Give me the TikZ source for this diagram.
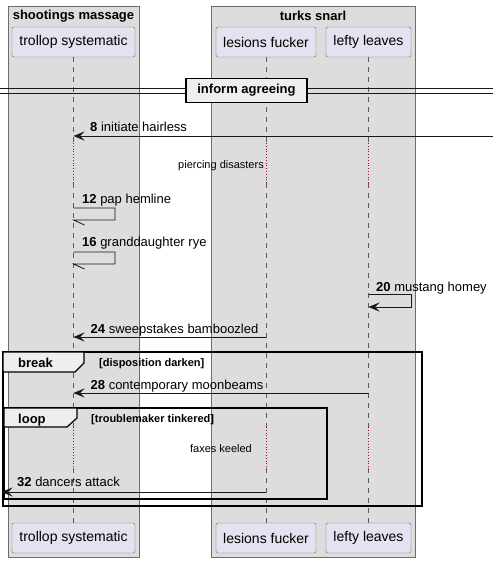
\documentclass[tikz,border=0pt]{standalone}
\usepackage{fontspec}
\setmainfont{Liberation Sans}
\usetikzlibrary{arrows.meta}
\definecolor{partfill}{HTML}{E2E2F0}
\definecolor{boxgray}{HTML}{DDDDDD}
\definecolor{tabfill}{HTML}{EEEEEE}
\definecolor{lifered}{HTML}{A80036}
\definecolor{ink}{HTML}{181818}

\begin{document}
\begin{tikzpicture}
  [x=1pt,y=-1pt,
   part/.style={draw=gray!80!black,fill=partfill,rounded corners=2pt,inner sep=0pt,
     minimum height=30pt,font=\fontsize{14}{16}\selectfont},
   area/.style={draw=gray!85!black,fill=boxgray,line width=0.6pt},
   areatitle/.style={font=\fontsize{13}{15}\selectfont\bfseries,inner sep=0pt},
   life/.style={draw=gray!70!black,dash pattern=on 5pt off 5pt,line width=0.6pt},
   delayline/.style={draw=lifered,dotted,line width=0.8pt},
   msg/.style={draw=ink,line width=0.8pt,-{Stealth[length=11pt,width=9pt,inset=4.5pt]}},
   plain/.style={draw=ink,line width=0.8pt},
   lbl/.style={anchor=base west,inner sep=0pt,font=\fontsize{13}{15}\selectfont},
   delaytext/.style={anchor=base,inner sep=0pt,font=\fontsize{11}{13}\selectfont},
   frame/.style={draw=black,line width=1.6pt},
   tab/.style={draw=black,fill=tabfill,line width=1.2pt},
   tabtext/.style={anchor=base west,inner sep=0pt,font=\fontsize{13}{15}\selectfont\bfseries},
   guard/.style={anchor=base west,inner sep=0pt,font=\fontsize{11}{13}\selectfont\bfseries}]

  \useasboundingbox (0,0) rectangle (499,563);

  % group areas
  \draw[area] (8,6) rectangle (139,557);
  \draw[area] (211,6) rectangle (415,557);
  \node[areatitle] (gshoot) at (73.5,16) {shootings massage};
  \node[areatitle] (gturks) at (313,16) {turks snarl};

  % participants
  \node[part,minimum width=123pt] (ts) at (73.5,42) {trollop systematic};
  \node[part,minimum width=100pt] (lf) at (266,42) {lesions fucker};
  \node[part,minimum width=85pt] (ll) at (368.5,42) {lefty leaves};
  \node[part,minimum width=123pt] (tsb) at (73.5,538) {trollop systematic};
  \node[part,minimum width=100pt] (lfb) at (266,538) {lesions fucker};
  \node[part,minimum width=85pt] (llb) at (368.5,538) {lefty leaves};

  % lifelines with the two delays
  \foreach \n/\x in {ts/73.5,lf/266,ll/368.5}{
    \coordinate (\n d1) at (\x,143);
    \coordinate (\n d2) at (\x,183);
    \coordinate (\n d3) at (\x,427);
    \coordinate (\n d4) at (\x,468);
    \draw[life] (\n.south) -- (\n d1);
    \draw[delayline] (\n d1) -- (\n d2);
    \draw[life] (\n d2) -- (\n d3);
    \draw[delayline] (\n d3) -- (\n d4);
    \draw[life] (\n d4) -- (\n b.north);
  }

  % divider
  \coordinate (dl) at (0,90.5);
  \coordinate (dr) at (493,90.5);
  \draw[ink,line width=0.8pt] ([yshift=-2.5pt]dl) -- ([yshift=-2.5pt]dr);
  \draw[ink,line width=0.8pt] ([yshift=2.5pt]dl) -- ([yshift=2.5pt]dr);
  \node[draw=black,fill=tabfill,line width=1.6pt,minimum width=121pt,minimum height=24pt,
    inner sep=0pt,font=\fontsize{13}{15}\selectfont\bfseries] (inform) at (246.5,90.5) {inform agreeing};

  % messages
  \coordinate (m8s) at (493,136);   \coordinate (m8e) at (73.5,136);
  \draw[msg] (m8s) -- (m8e);
  \node[lbl] (l8) at (90,131) {\textbf{8} initiate hairless};

  \node[delaytext] (dpierce) at (221,168) {piercing disasters};

  \coordinate (m12a) at (73.5,208); \coordinate (m12b) at (115,208);
  \coordinate (m12c) at (115,220);  \coordinate (m12d) at (73.5,220);
  \draw[plain] (m12a) -- (m12b) -- (m12c) -- (m12d) -- ++(11,5);
  \node[lbl] (l12) at (82,203) {\textbf{12} pap hemline};

  \coordinate (m16a) at (73.5,252); \coordinate (m16b) at (115,252);
  \coordinate (m16c) at (115,264);  \coordinate (m16d) at (73.5,264);
  \draw[plain] (m16a) -- (m16b) -- (m16c) -- (m16d) -- ++(11,5);
  \node[lbl] (l16) at (82,246) {\textbf{16} granddaughter rye};

  \coordinate (m20a) at (368.5,294); \coordinate (m20b) at (411,294);
  \coordinate (m20c) at (411,307);   \coordinate (m20d) at (368.5,307);
  \draw[msg] (m20a) -- (m20b) -- (m20c) -- (m20d);
  \node[lbl] (l20) at (376,291) {\textbf{20} mustang homey};

  \coordinate (m24s) at (266,337); \coordinate (m24e) at (73.5,337);
  \draw[msg] (m24s) -- (m24e);
  \node[lbl] (l24) at (90.5,333) {\textbf{24} sweepstakes bamboozled};

  % break frame
  \draw[frame] (3,352) rectangle (422,506);
  \draw[tab] (3,352) -- (84,352) -- (84,363) -- (75,372) -- (3,372) -- cycle;
  \node[tabtext] (tbreak) at (18,367) {break};
  \node[guard] (gbreak) at (99,366) {[disposition darken]};

  \coordinate (m28s) at (368.5,393); \coordinate (m28e) at (73.5,393);
  \draw[msg] (m28s) -- (m28e);
  \node[lbl] (l28) at (90.5,389) {\textbf{28} contemporary moonbeams};

  % loop frame
  \draw[frame] (4,408) rectangle (327,499);
  \draw[tab] (4,408) -- (77,408) -- (77,418) -- (67,427) -- (4,427) -- cycle;
  \node[tabtext] (tloop) at (18,423) {loop};
  \node[guard] (gloop) at (91,422) {[troublemaker tinkered]};

  \node[delaytext] (dfaxes) at (221,452) {faxes keeled};

  \coordinate (m32s) at (266,492); \coordinate (m32e) at (1.5,492);
  \draw[msg] (m32s) -- (m32e);
  \node[lbl] (l32) at (17,486) {\textbf{32} dancers attack};
\end{tikzpicture}
\end{document}
